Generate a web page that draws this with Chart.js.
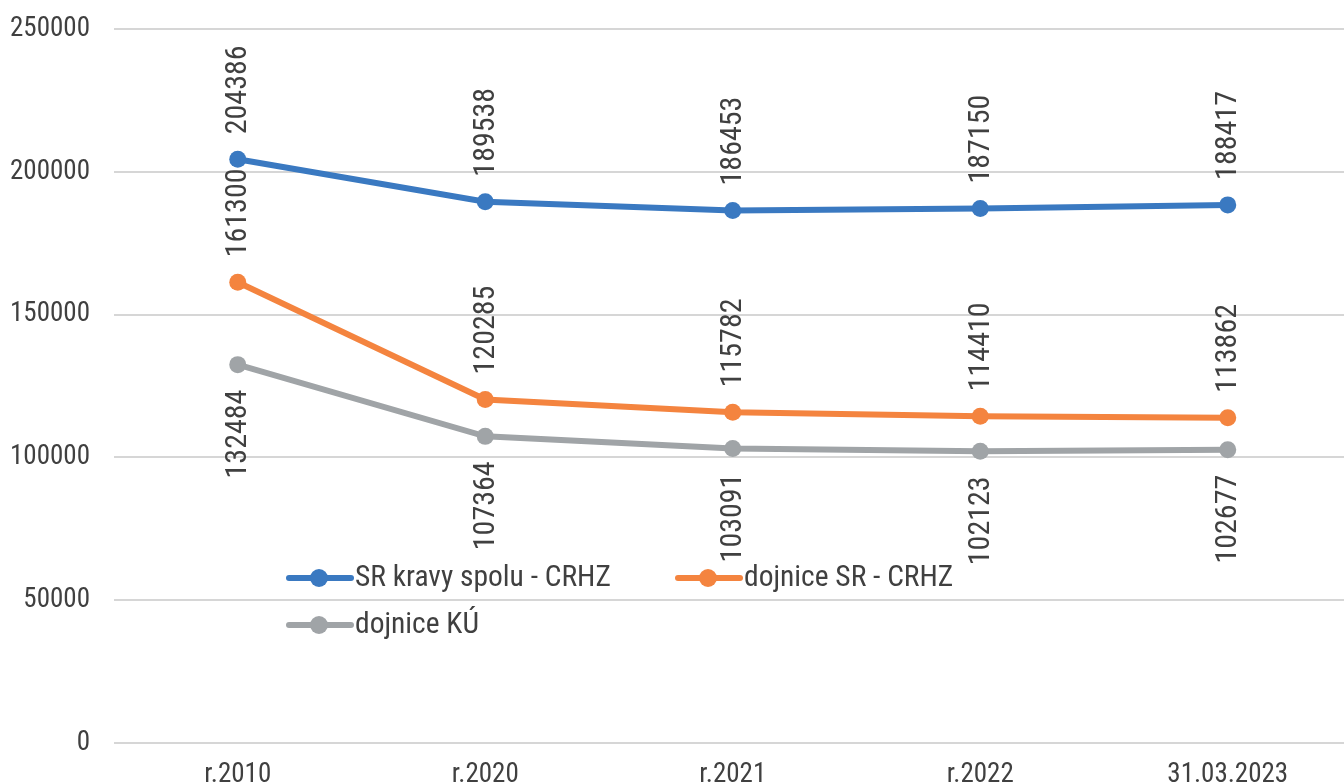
<!DOCTYPE html>
<html><head><meta charset="utf-8">
<script src="https://cdn.jsdelivr.net/npm/chart.js@4.4.0/dist/chart.umd.min.js"></script>
<style>
html,body{margin:0;padding:0;overflow:hidden;background:#fff;width:1344px;height:782px}
#wrap{position:absolute;left:0;top:0;width:1360px;height:800px}
canvas{display:block}
</style></head><body><div id="wrap"><canvas id="c" width="1360" height="800" style="width:1360px;height:800px"></canvas></div>
<script>
const categories = ['r.2010', 'r.2020', 'r.2021', 'r.2022', '31.03.2023'];
const srKravySpolu = [204386, 189538, 186453, 187150, 188417];
const dojniceSR = [161300, 120285, 115782, 114410, 113862];
const dojniceKU = [132484, 107364, 103091, 102123, 102677];
const seriesNames = ['SR kravy spolu - CRHZ', 'dojnice SR - CRHZ', 'dojnice KÚ'];
const yTickValues = [0, 50000, 100000, 150000, 200000, 250000];

const FONT = '"Liberation Sans Narrow", "Roboto Condensed", "DejaVu Sans Condensed", "Liberation Sans", sans-serif';
const TEXT = '#404040';
const colors = ['#3A79C1', '#F4843F', '#A0A4A7'];
const labelPos = ['above', 'above', 'below'];

const dataLabels = {
  id: 'dataLabels',
  afterDatasetsDraw(chart) {
    const ctx = chart.ctx;
    ctx.save();
    ctx.font = '30px ' + FONT;
    ctx.fillStyle = TEXT;
    ctx.textBaseline = 'middle';
    chart.data.datasets.forEach((ds, i) => {
      const meta = chart.getDatasetMeta(i);
      meta.data.forEach((pt, j) => {
        ctx.save();
        if (labelPos[i] === 'above') {
          ctx.translate(pt.x, pt.y - 25);
          ctx.rotate(-Math.PI / 2);
          ctx.textAlign = 'left';
        } else {
          ctx.translate(pt.x, pt.y + 25);
          ctx.rotate(-Math.PI / 2);
          ctx.textAlign = 'right';
        }
        ctx.fillText(String(ds.data[j]), 0, 1);
        ctx.restore();
      });
    });
    ctx.restore();
  }
};

const customLegend = {
  id: 'customLegend',
  afterDraw(chart) {
    const ctx = chart.ctx;
    const items = [
      {x: 289, y: 578},
      {x: 678, y: 578},
      {x: 289, y: 625}
    ];
    ctx.save();
    ctx.font = '29.5px ' + FONT;
    ctx.textBaseline = 'middle';
    ctx.textAlign = 'left';
    items.forEach((it, i) => {
      ctx.strokeStyle = colors[i];
      ctx.lineWidth = 6;
      ctx.lineCap = 'round';
      ctx.beginPath();
      ctx.moveTo(it.x, it.y);
      ctx.lineTo(it.x + 62, it.y);
      ctx.stroke();
      ctx.fillStyle = colors[i];
      ctx.beginPath();
      ctx.arc(it.x + 30, it.y, 9, 0, Math.PI * 2);
      ctx.fill();
      ctx.fillStyle = TEXT;
      ctx.fillText(seriesNames[i], it.x + 66, it.y + 1);
    });
    ctx.restore();
  }
};

const mk = (i, data) => ({
  label: seriesNames[i],
  data: data,
  borderColor: colors[i],
  backgroundColor: colors[i],
  borderWidth: 6,
  pointRadius: 8.5,
  pointHoverRadius: 8.5,
  pointBorderWidth: 0,
  pointBackgroundColor: colors[i],
  tension: 0,
  fill: false
});

new Chart(document.getElementById('c'), {
  type: 'line',
  data: {
    labels: categories,
    datasets: [mk(0, srKravySpolu), mk(1, dojniceSR), mk(2, dojniceKU)]
  },
  options: {
    responsive: false,
    animation: false,
    events: [],
    layout: {padding: {top: 29, right: 6, left: 0, bottom: 0}},
    plugins: {legend: {display: false}, tooltip: {enabled: false}},
    scales: {
      x: {
        offset: true,
        grid: {display: false, drawTicks: false},
        border: {display: false},
        ticks: {color: TEXT, font: {family: FONT, size: 27}, padding: 16, maxRotation: 0, autoSkip: false},
        afterFit(s) { s.height = 57; s.paddingLeft = 0; s.paddingRight = 0; }
      },
      y: {
        min: 0, max: 250000,
        afterBuildTicks(s) { s.ticks = yTickValues.map(v => ({value: v})); },
        grid: {color: '#D6D6D6', lineWidth: 2, drawTicks: false, tickLength: 0},
        border: {display: false},
        ticks: {color: TEXT, font: {family: FONT, size: 27}, padding: 24, callback: v => String(v)},
        afterFit(s) { s.width = 114; s.paddingTop = 0; s.paddingBottom = 0; }
      }
    }
  },
  plugins: [dataLabels, customLegend]
});
</script></body></html>
